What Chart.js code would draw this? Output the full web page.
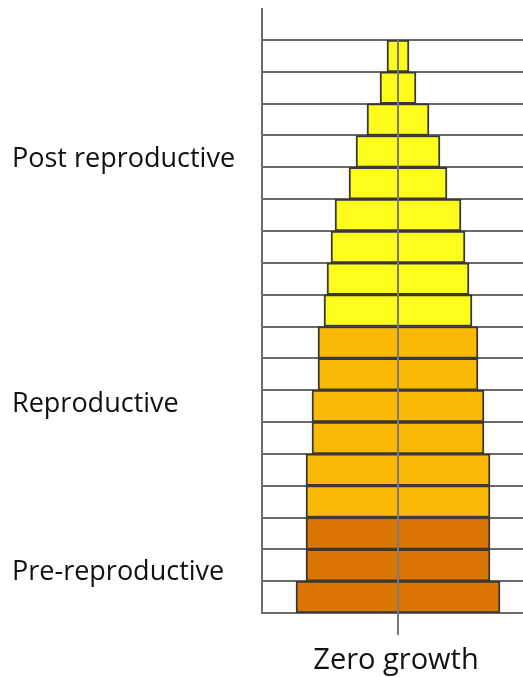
<!DOCTYPE html>
<html>
<head>
<meta charset="utf-8">
<script src="https://cdn.jsdelivr.net/npm/chart.js@4.4.1/dist/chart.umd.min.js"></script>
<style>
  body { margin: 0; background: #fff; }
</style>
</head>
<body>
<canvas id="piramide" width="523" height="677"></canvas>
<script>
// Grupos de edad (de abajo hacia arriba)
var edades = ['0-4', '5-9', '10-14', '15-19', '20-24', '25-29', '30-34', '35-39', '40-44',
              '45-49', '50-54', '55-59', '60-64', '65-69', '70-74', '75-79', '80-84', '85+'];
// Media anchura de cada barra (% de población a cada lado)
var poblacion = [10.2, 9.2, 9.2, 9.2, 9.2, 8.6, 8.6, 8.0, 8.0,
                 7.4, 7.1, 6.7, 6.3, 4.9, 4.2, 3.1, 1.8, 1.1];
// Etapa de cada grupo
var etapas = ['pre', 'pre', 'pre', 'rep', 'rep', 'rep', 'rep', 'rep', 'rep',
              'post', 'post', 'post', 'post', 'post', 'post', 'post', 'post', 'post'];
var nombresEtapas = ['Pre-reproductive', 'Reproductive', 'Post reproductive'];
var titulo = 'Zero growth';

var coloresEtapa = { pre: '#db7602', rep: '#fbb805', post: '#fdfc1d' };

// Barras flotantes simétricas [-v, v]
var barras = poblacion.map(function (v) { return [-v, v]; });

// Dibuja textos, eje alargado y línea central
var extras = {
    id: 'extras',
    afterDatasetsDraw: function (chart) {
        var ctx = chart.ctx;
        var x = chart.scales.x;
        var y = chart.scales.y;
        var area = chart.chartArea;
        var cx = x.getPixelForValue(0);
        ctx.save();
        // Línea central
        ctx.strokeStyle = '#7a7a7a';
        ctx.lineWidth = 2;
        ctx.beginPath();
        ctx.moveTo(cx, area.top);
        ctx.lineTo(cx, area.bottom + 22);
        ctx.stroke();
        // Eje vertical alargado hacia arriba
        ctx.strokeStyle = '#6b6b6b';
        ctx.beginPath();
        ctx.moveTo(area.left, area.top - 32);
        ctx.lineTo(area.left, area.top);
        ctx.stroke();
        // Etiquetas de las etapas
        ctx.fillStyle = '#111';
        ctx.font = '27px "Open Sans"';
        ctx.textAlign = 'left';
        ctx.textBaseline = 'alphabetic';
        var posiciones = [0.55, 5.8, 13.5];
        nombresEtapas.forEach(function (n, i) {
            ctx.fillText(n, 12, y.getPixelForValue(posiciones[i]));
        });
        // Título inferior
        ctx.font = '29px "Open Sans"';
        ctx.textAlign = 'center';
        ctx.fillText(titulo, cx - 2, area.bottom + 56);
        ctx.restore();
    }
};

var ctx = document.getElementById('piramide').getContext('2d');
var piramide = new Chart(ctx, {
    type: 'bar',
    data: {
        labels: edades,
        datasets: [{
            data: barras,
            backgroundColor: etapas.map(function (e) { return coloresEtapa[e]; }),
            borderColor: '#383838',
            borderWidth: 2,
            borderSkipped: false,
            categoryPercentage: 1,
            barPercentage: 1
        }]
    },
    options: {
        indexAxis: 'y',
        responsive: false,
        animation: false,
        layout: { padding: { left: 262, right: 0, top: 40, bottom: 64 } },
        scales: {
            x: { display: false, min: -13.6, max: 12.5 },
            y: {
                reverse: true,
                offset: true,
                grid: { offset: true, color: '#6b6b6b', lineWidth: 2, drawTicks: false },
                ticks: { display: false },
                border: { display: true, color: '#6b6b6b', width: 2 }
            }
        },
        plugins: {
            legend: { display: false },
            tooltip: { enabled: false }
        }
    },
    plugins: [extras]
});
</script>
</body>
</html>
